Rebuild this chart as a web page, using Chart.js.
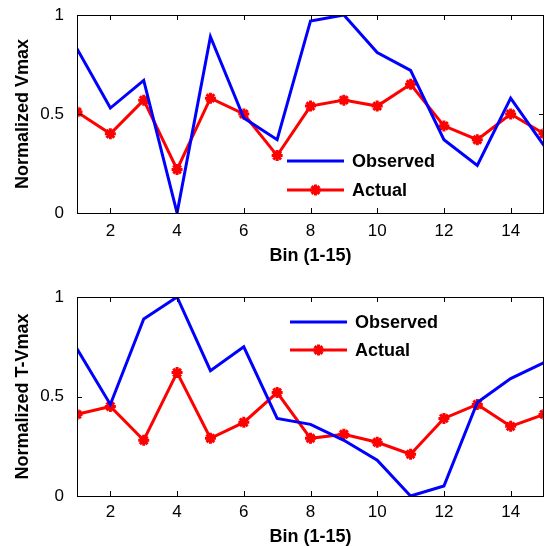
<!DOCTYPE html>
<html>
<head>
<meta charset="utf-8">
<script src="https://cdn.jsdelivr.net/npm/chart.js@4/dist/chart.umd.min.js"></script>
<style>
  html, body { margin: 0; padding: 0; background: #fff; }
  #wrap { position: relative; width: 545px; height: 546px; }
  canvas { position: absolute; left: 0; }
</style>
</head>
<body>
<div id="wrap">
  <canvas id="c1" width="545" height="273" style="top:0px"></canvas>
  <canvas id="c2" width="545" height="273" style="top:273px"></canvas>
</div>
<script>
// ---- data ----
const bins = [1, 2, 3, 4, 5, 6, 7, 8, 9, 10, 11, 12, 13, 14, 15];
const xTickValues = [2, 4, 6, 8, 10, 12, 14];
const yTickValues = [0, 0.5, 1];
const seriesNames = ['Observed', 'Actual'];
const xTitle = 'Bin (1-15)';
const yTitleTop = 'Normalized Vmax';
const yTitleBottom = 'Normalized T-Vmax';

const vmaxObserved = [0.83, 0.53, 0.67, 0.00, 0.89, 0.48, 0.37, 0.97, 1.00, 0.81, 0.72, 0.37, 0.24, 0.58, 0.34];
const vmaxActual   = [0.51, 0.40, 0.57, 0.22, 0.58, 0.50, 0.29, 0.54, 0.57, 0.54, 0.65, 0.44, 0.37, 0.50, 0.40];
const tvmaxObserved = [0.74, 0.46, 0.89, 1.00, 0.63, 0.75, 0.39, 0.36, 0.28, 0.18, 0.00, 0.05, 0.47, 0.59, 0.67];
const tvmaxActual   = [0.41, 0.45, 0.28, 0.62, 0.29, 0.37, 0.52, 0.29, 0.31, 0.27, 0.21, 0.39, 0.46, 0.35, 0.41];

const BLUE = '#0000ff';
const RED = '#ff0000';
const FONT = '"Liberation Sans", Arial, Helvetica, sans-serif';

// box, inward ticks and in-axes legend
const matlabAxes = {
  id: 'matlabAxes',
  afterDraw(chart, args, opts) {
    const ctx = chart.ctx;
    const a = chart.chartArea;
    const xs = chart.scales.x, ys = chart.scales.y;
    ctx.save();
    ctx.strokeStyle = '#000';
    ctx.lineWidth = 1;
    ctx.strokeRect(Math.round(a.left) + 0.5, Math.round(a.top) + 0.5,
                   Math.round(a.right - a.left) - 1, Math.round(a.bottom - a.top));
    const tl = 5;
    ctx.beginPath();
    xTickValues.forEach(v => {
      const px = Math.round(xs.getPixelForValue(v)) + 0.5;
      ctx.moveTo(px, a.bottom); ctx.lineTo(px, a.bottom - tl);
      ctx.moveTo(px, a.top); ctx.lineTo(px, a.top + tl);
    });
    yTickValues.forEach(v => {
      const py = Math.round(ys.getPixelForValue(v)) + 0.5;
      ctx.moveTo(a.left, py); ctx.lineTo(a.left + tl, py);
      ctx.moveTo(a.right, py); ctx.lineTo(a.right - tl, py);
    });
    ctx.stroke();

    // legend
    const L = opts.legend;
    chart.data.datasets.forEach((ds, i) => {
      const y = L.y + i * L.gap;
      ctx.strokeStyle = ds.borderColor;
      ctx.lineWidth = 3;
      ctx.beginPath();
      ctx.moveTo(L.x, y); ctx.lineTo(L.x + L.len, y);
      ctx.stroke();
      if (ds.pointRadius > 0) {
        ctx.lineWidth = ds.pointBorderWidth;
        const cx = L.x + L.len / 2, r = ds.pointRadius;
        ctx.beginPath();
        for (let k = 0; k < 4; k++) {
          const ang = k * Math.PI / 4;
          ctx.moveTo(cx + r * Math.sin(ang), y - r * Math.cos(ang));
          ctx.lineTo(cx - r * Math.sin(ang), y + r * Math.cos(ang));
        }
        ctx.stroke();
      }
      ctx.fillStyle = '#000';
      ctx.font = 'bold 18px ' + FONT;
      ctx.textAlign = 'left';
      ctx.textBaseline = 'middle';
      ctx.fillText(ds.label, L.x + L.len + 8, y + 1);
    });
    ctx.restore();
  }
};

function makeChart(id, observed, actual, yTitle, cfg) {
  return new Chart(document.getElementById(id), {
    type: 'line',
    data: {
      datasets: [
        { label: seriesNames[0], data: bins.map((b, i) => ({ x: b, y: observed[i] })),
          borderColor: BLUE, backgroundColor: BLUE, borderWidth: 3, pointRadius: 0,
          pointBorderWidth: 0, tension: 0 },
        { label: seriesNames[1], data: bins.map((b, i) => ({ x: b, y: actual[i] })),
          borderColor: RED, backgroundColor: RED, borderWidth: 3, pointRadius: 5.5,
          pointStyle: 'star', pointBorderWidth: 3, pointBorderColor: RED, tension: 0 }
      ]
    },
    options: {
      responsive: false,
      animation: false,
      devicePixelRatio: 1,
      layout: { autoPadding: false, padding: { left: 0, right: 1, top: cfg.top, bottom: 0 } },
      plugins: {
        legend: { display: false },
        tooltip: { enabled: false },
        matlabAxes: { legend: cfg.legend }
      },
      scales: {
        x: {
          type: 'linear', min: 1, max: 15,
          afterBuildTicks(s) { s.ticks = xTickValues.map(v => ({ value: v })); },
          afterFit(s) { s.height = cfg.xh; s.paddingLeft = 0; s.paddingRight = 0; },
          grid: { display: false },
          border: { display: false },
          ticks: { color: '#000', font: { family: FONT, size: 17, lineHeight: 1 }, padding: cfg.xpad, maxRotation: 0 },
          title: { display: true, text: xTitle, color: '#000',
                   font: { family: FONT, size: 18, weight: 'bold', lineHeight: 1 },
                   padding: { top: 0, bottom: cfg.tpad } }
        },
        y: {
          type: 'linear', min: 0, max: 1,
          afterBuildTicks(s) { s.ticks = yTickValues.map(v => ({ value: v })); },
          afterFit(s) { s.width = 77; s.paddingTop = 0; s.paddingBottom = 0; },
          grid: { display: false },
          border: { display: false },
          ticks: { color: '#000', font: { family: FONT, size: 17, lineHeight: 1 }, padding: 5,
                   callback: v => String(v) },
          title: { display: true, text: yTitle, color: '#000',
                   font: { family: FONT, size: 18, weight: 'bold', lineHeight: 1 },
                   padding: { top: 14, bottom: 0 } }
        }
      }
    },
    plugins: [matlabAxes]
  });
}

makeChart('c1', vmaxObserved, vmaxActual, yTitleTop,
  { top: 15, xh: 60, xpad: 2, tpad: 7.5, legend: { x: 287, y: 161, len: 57, gap: 29 } });
makeChart('c2', tvmaxObserved, tvmaxActual, yTitleBottom,
  { top: 24, xh: 50, xpad: 0, tpad: 0, legend: { x: 290, y: 49, len: 57, gap: 28 } });
</script>
</body>
</html>
